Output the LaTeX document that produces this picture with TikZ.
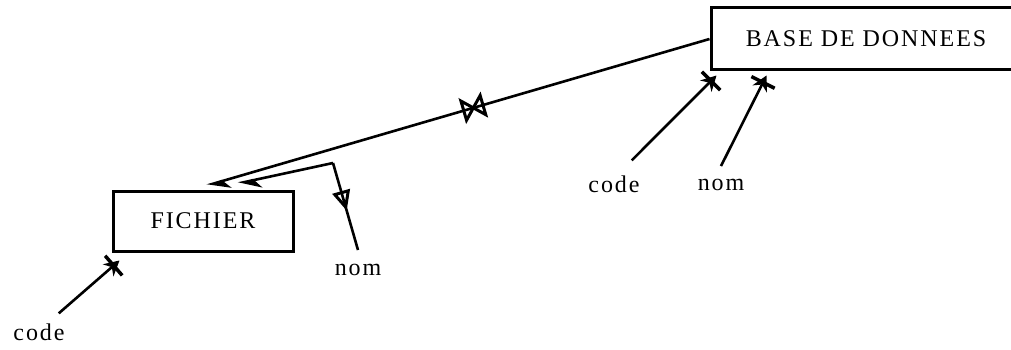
\documentclass[tikz,border=0pt]{standalone}
\usepackage{fontspec}
\setmainfont[LetterSpace=8]{Liberation Serif}
\usetikzlibrary{arrows.meta,decorations.markings}
\tikzset{
  entity/.style={draw, line width=3pt, inner sep=0pt, font=\fontsize{24}{28}\selectfont},
  attr/.style={inner sep=0pt, font=\fontsize{24}{28}\selectfont},
  link/.style={line width=2.6pt},
  ident/.style={link, -{Bar[width=26pt,line width=3.5pt,sep=-9pt]Stealth[length=15pt,width=16pt]}},
  ref/.style={link, -{Stealth[harpoon,length=20pt,width=18pt]}},
  opttri/.style={postaction={decorate}, decoration={markings, mark=at position #1 with
    {\draw[line width=3pt] (7pt,0pt) -- (-8pt,7pt) -- (-8pt,-7pt) -- cycle;}}},
  bowtie/.style={postaction={decorate}, decoration={markings, mark=at position #1 with
    {\draw[line width=3pt] (-10pt,10pt) -- (10pt,-10pt) -- (10pt,10pt) -- (-10pt,-10pt) -- cycle;}}}
}
\begin{document}
\begin{tikzpicture}[x=1pt, y=-1pt]
    \useasboundingbox (0,0) rectangle (1011,350);
    \clip (0,0) rectangle (1011,350);
    \node[entity, minimum width=310pt, minimum height=62pt] (base) at (866,39) {BASE DE DONNEES};
    \node[entity, minimum width=180pt, minimum height=60pt] (fichier) at (203,221) {FICHIER};
    \node[attr] (codeB) at (614,184) {code};
    \node[attr] (nomB) at (721,185) {nom};
    \node[attr] (codeF) at (39,332) {code};
    \node[attr] (nomF) at (358,270) {nom};
    \coordinate (kink) at (333,163);
    \draw[ident] ([shift={(-8pt,15pt)}]codeB.north east) -- ([shift={(7pt,-4pt)}]base.south west);
    \draw[ident] ([yshift=13pt]nomB.north) -- ([shift={(57pt,-4pt)}]base.south west);
    \draw[ident] ([shift={(-6pt,10pt)}]codeF.north east) -- ([shift={(8pt,-8pt)}]fichier.south west);
    \draw[ref, bowtie=0.47] (base.west) -- ([shift={(4pt,4pt)}]fichier.north);
    \draw[ref] (kink) -- ([shift={(35pt,6pt)}]fichier.north);
    \draw[link, opttri=0.43] (kink) -- ([yshift=14pt]nomF.north);
\end{tikzpicture}
\end{document}
